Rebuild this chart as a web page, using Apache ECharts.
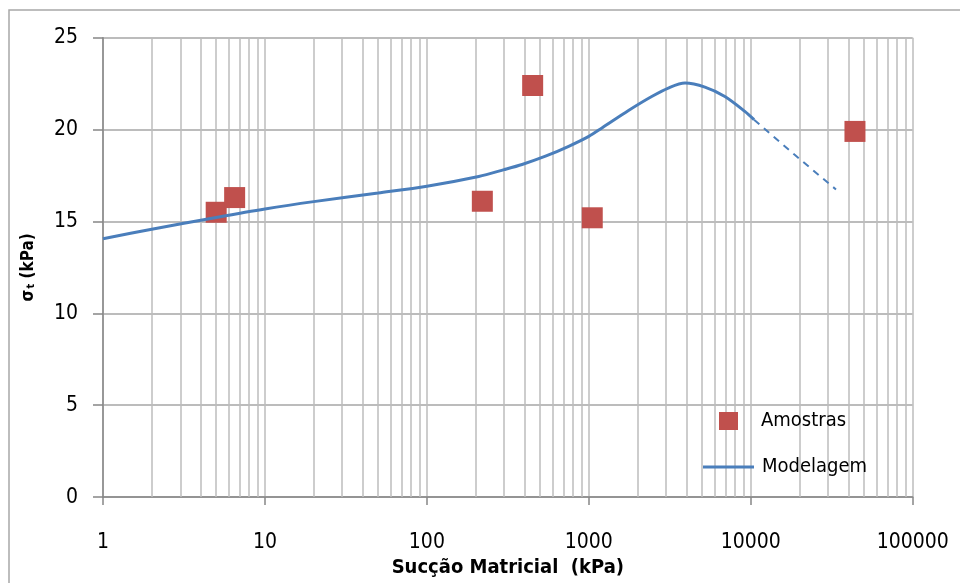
<!DOCTYPE html>
<html>
<head>
<meta charset="utf-8">
<script src="https://cdn.jsdelivr.net/npm/echarts@6/dist/echarts.min.js"></script>
<style>
html,body{margin:0;padding:0;background:#fff;}
#chart{width:960px;height:583px;}
</style>
</head>
<body>
<div id="chart"></div>
<script>
// Sample points (Amostras): suction (kPa), tensile strength (kPa)
const sampleSuction = [5, 6.5, 220, 450, 1050, 44000];
const sampleStrength = [15.5, 16.3, 16.1, 22.4, 15.2, 19.9];

// Model curve (Modelagem), solid part
const modelSuction = [1, 2, 5, 10, 20, 50, 100, 209, 300, 387, 540, 751, 1000, 1205, 1758, 2446, 3097, 3926, 5210, 6920, 9190, 10480];
const modelStrength = [14.06, 14.58, 15.22, 15.68, 16.08, 16.55, 16.92, 17.45, 17.82, 18.1, 18.55, 19.09, 19.63, 20.09, 21.04, 21.8, 22.26, 22.53, 22.31, 21.8, 20.99, 20.54];

// Model extrapolation (dashed)
const extSuction = [10480, 18600, 33600];
const extStrength = [20.54, 18.64, 16.74];

const yTicks = [0, 5, 10, 15, 20, 25];

// minor vertical grid lines at 2..9 x 10^d
const minorGrid = [];
for (let d = 0; d < 5; d++) {
  for (let k = 2; k <= 9; k++) minorGrid.push(k * Math.pow(10, d));
}

const zip = (a, b) => a.map((v, i) => [v, b[i]]);
const FONT = "'DejaVu Sans Condensed', 'DejaVu Sans', sans-serif";
const blue = '#4a7ebb';
const red = '#c0504d';

const chart = echarts.init(document.getElementById('chart'), null, {renderer: 'canvas'});
chart.setOption({
  animation: false,
  backgroundColor: '#fff',
  graphic: [{
    type: 'rect', silent: true, z: -10,
    shape: {x: 9, y: 10, width: 1100, height: 800},
    style: {fill: 'none', stroke: '#a8a8a8', lineWidth: 1.5}
  }],
  grid: {left: 103, right: 47.3, top: 37.7, bottom: 84.7, containLabel: false},
  legend: [{
    data: [{name: 'Amostras', icon: 'rect'}], left: 719, top: 411, padding: 0, orient: 'vertical',
    itemWidth: 19, itemHeight: 18, z: 10,
    textStyle: {fontFamily: FONT, fontSize: 20, color: '#000', padding: [0, 0, 0, 18]}
  }, {
    data: [{name: 'Modelagem', icon: 'rect'}], left: 703, top: 457, padding: 0, orient: 'vertical',
    itemWidth: 51, itemHeight: 3, z: 10,
    textStyle: {fontFamily: FONT, fontSize: 20, color: '#000', padding: [0, 0, 0, 3]}
  }],
  xAxis: {
    type: 'log', logBase: 10, min: 1, max: 100000,
    name: 'Sucção Matricial  (kPa)', nameLocation: 'middle', nameGap: 57,
    nameTextStyle: {fontFamily: FONT, fontSize: 20, fontWeight: 'bold', color: '#000'},
    axisLine: {show: true, onZero: false, lineStyle: {color: '#868686', width: 1.5}},
    axisTick: {show: true, inside: false, length: 8, lineStyle: {color: '#868686', width: 1.5}},
    axisLabel: {fontFamily: FONT, fontSize: 21, color: '#000', margin: 35,
      formatter: v => String(Math.round(v))},
    splitLine: {show: true, lineStyle: {color: '#bdbdbd', width: 1.5}},
    minorTick: {show: false}
  },
  yAxis: {
    type: 'value', min: 0, max: 25, interval: 5,
    name: '{a|σ}{s|t}{a| (kPa)}', nameLocation: 'middle', nameGap: 66, nameRotate: 90,
    nameTextStyle: {
      rich: {
        a: {fontFamily: FONT, fontSize: 17, fontWeight: 'bold', color: '#000'},
        s: {fontFamily: FONT, fontSize: 11, fontWeight: 'bold', color: '#000', verticalAlign: 'bottom', padding: [6, 0, 0, 1]}
      }
    },
    axisLine: {show: true, lineStyle: {color: '#868686', width: 1.5}},
    axisTick: {show: true, inside: false, length: 10, lineStyle: {color: '#868686', width: 1.5}},
    axisLabel: {fontFamily: FONT, fontSize: 21, color: '#000', margin: 25},
    splitLine: {show: true, lineStyle: {color: '#a6a6a6', width: 1.5}}
  },
  series: [{
    name: 'grid', type: 'line', data: [], silent: true, z: 1,
    markLine: {
      silent: true, symbol: ['none', 'none'], animation: false, z: 1,
      label: {show: false},
      lineStyle: {color: '#bdbdbd', width: 1.5, type: 'solid'},
      data: minorGrid.map(v => ({xAxis: v}))
    }
  }, {
    name: 'Amostras', type: 'scatter', data: zip(sampleSuction, sampleStrength),
    symbol: 'rect', symbolSize: 21, z: 3,
    itemStyle: {color: red, opacity: 1}
  }, {
    name: 'Modelagem', type: 'line', data: zip(modelSuction, modelStrength),
    smooth: 0.3, symbol: 'none', z: 4,
    lineStyle: {color: blue, width: 3}, itemStyle: {color: blue}
  }, {
    name: 'ext', type: 'line', data: zip(extSuction, extStrength),
    smooth: false, symbol: 'none', z: 4,
    lineStyle: {color: blue, width: 2, type: [7, 6]}, itemStyle: {color: blue}
  }]
});
</script>
</body>
</html>
